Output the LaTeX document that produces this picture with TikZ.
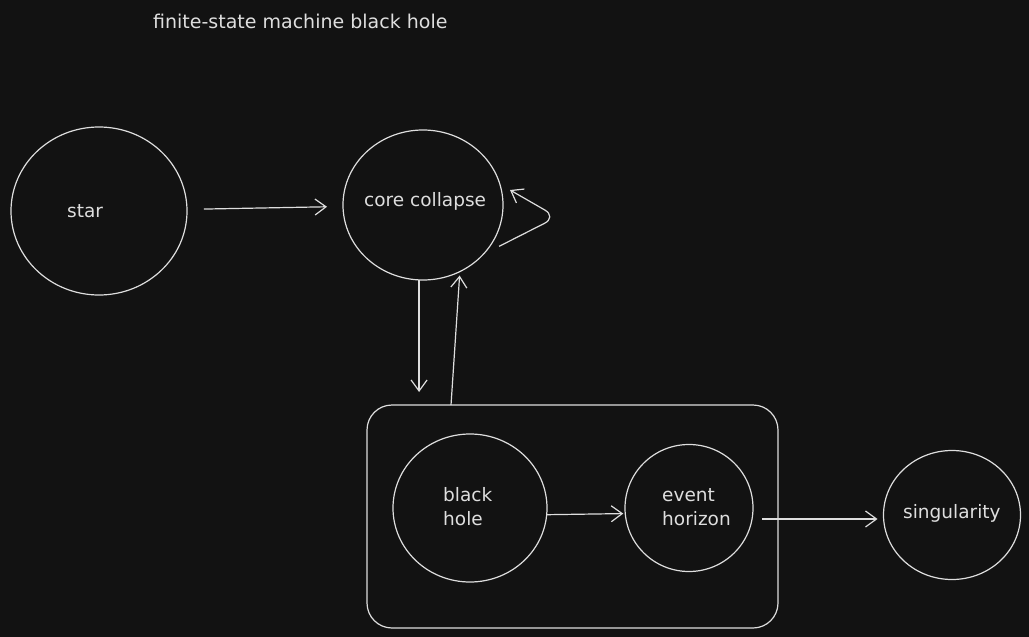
\documentclass[tikz,border=0pt]{standalone}
\usepackage{fontspec}
\setmainfont{DejaVu Sans}
\usetikzlibrary{arrows.meta,shapes.geometric}
\definecolor{bg}{HTML}{121212}
\definecolor{ink}{HTML}{DEDEDE}
\tikzset{
  state/.style={draw=ink, line width=1.2pt, ellipse, inner sep=0pt, outer sep=0pt},
  lbl/.style={text=ink, font=\fontsize{18.5}{24}\selectfont, inner sep=0pt, align=left},
  ttl/.style={text=ink, font=\fontsize{19}{24}\selectfont, inner sep=0pt},
  arr/.style={draw=ink, line width=1.2pt, -{Straight Barb[length=11pt,width=16pt,line width=1.2pt]}},
  grpbox/.style={draw=ink, line width=1.2pt, rounded corners=25pt, inner sep=0pt, outer sep=0pt}
}
\begin{document}
\begin{tikzpicture}[x=1pt,y=-1pt]
\fill[bg] (0,0) rectangle (1029,637);
\useasboundingbox (0,0) rectangle (1029,637);

\node[ttl, anchor=base west] (title) at (153,28) {finite-state machine black hole};

\node[state, minimum width=176pt, minimum height=168pt] (star) at (99,211) {};
\node[lbl, anchor=base west] (starl) at (67,217) {star};

\node[state, minimum width=160pt, minimum height=150pt] (cc) at (423,205) {};
\node[lbl, anchor=base west] (ccl) at (364,206) {core collapse};

\node[grpbox, minimum width=411pt, minimum height=223pt] (grp) at (572.5,516.5) {};

\node[state, minimum width=154pt, minimum height=148pt] (bh) at (470,508) {};
\node[lbl, anchor=base west] (bhl) at (443,525) {black\\hole};

\node[state, minimum width=128pt, minimum height=127pt] (eh) at (689,508) {};
\node[lbl, anchor=base west] (ehl) at (662,525) {event\\horizon};

\node[state, minimum width=137pt, minimum height=129pt] (sing) at (952,515) {};
\node[lbl, anchor=base west] (singl) at (903,518) {singularity};

% connectors
\draw[arr, shorten <=17pt, shorten >=16pt] (star) -- (cc);
\coordinate (loopstart) at ([xshift=8pt,yshift=-2pt]cc.-30);
\coordinate (loopend) at (510,190);
\draw[arr, rounded corners=14pt] (loopstart) -- (557,217) -- (loopend);
\draw[arr, shorten >=13pt] (cc.267) -- (cc.267 |- grp.north);
\draw[arr, shorten >=4pt] ([xshift=-121.5pt]grp.north) -- (cc.-61);
\draw[arr] (bh.-5) -- ([xshift=-2pt]eh.185);
\draw[arr] ([xshift=9pt,yshift=-11pt]eh.east) -- ([xshift=-6pt,yshift=-4pt]sing.west);
\end{tikzpicture}
\end{document}
